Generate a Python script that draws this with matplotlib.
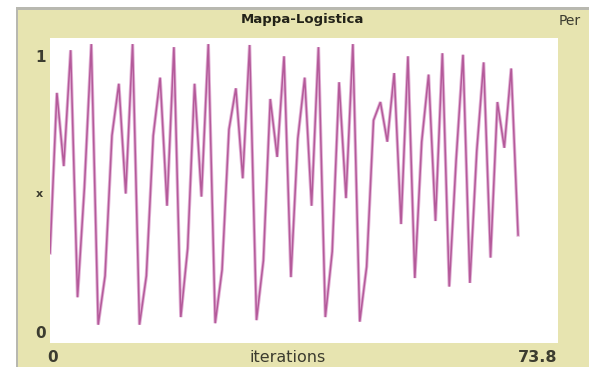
from matplotlib import pyplot as plt
from matplotlib.patches import Rectangle

# values of x at each iteration
iterations = list(range(69))
x_values = [0.295, 0.82, 0.58, 0.96, 0.15, 0.51, 0.98, 0.06, 0.22, 0.68,
            0.85, 0.49, 0.98, 0.06, 0.22, 0.68, 0.87, 0.45, 0.97, 0.085,
            0.31, 0.85, 0.48, 0.98, 0.065, 0.24, 0.70, 0.835, 0.54, 0.977,
            0.075, 0.27, 0.80, 0.61, 0.94, 0.216, 0.67, 0.87, 0.45, 0.97,
            0.085, 0.30, 0.855, 0.475, 0.98, 0.07, 0.25, 0.73, 0.79, 0.66,
            0.885, 0.39, 0.94, 0.213, 0.66, 0.88, 0.40, 0.95, 0.185, 0.60,
            0.945, 0.197, 0.63, 0.92, 0.28, 0.79, 0.64, 0.90, 0.354]

x_min, x_max = 0, 73.8
y_min, y_max = 0, 1

W, H = 589, 367
fig = plt.figure(figsize=(W / 100, H / 100), dpi=100)
fig.patch.set_facecolor('white')

# widget frame: gray border and yellow panel (behind the axes)
fig.patches.append(Rectangle((16 / W, 0), 1, 1 - 7 / H, transform=fig.transFigure,
                             facecolor='#b8b8b0', edgecolor='none', zorder=-2))
fig.patches.append(Rectangle((18 / W, 0), 1, 1 - 10 / H, transform=fig.transFigure,
                             facecolor='#e7e4b0', edgecolor='none', zorder=-1))

# plot area (white)
ax = fig.add_axes([50 / W, (H - 343) / H, (558 - 50) / W, (343 - 38) / H])
ax.set_zorder(1)
ax.set_facecolor('white')
# soft pink halo with a darker core, like the anti-aliased NetLogo pen
ax.plot(iterations, x_values, color='#e2b2d6', lw=2.4, solid_joinstyle='miter')
ax.plot(iterations, x_values, color='#b45a9a', lw=1.1, solid_joinstyle='miter')
ax.set_xlim(x_min, x_max)
ax.set_ylim(y_min, y_max)
ax.set_xticks([])
ax.set_yticks([])
for s in ax.spines.values():
    s.set_visible(False)

txt = '#3c3c30'
fig.text(302 / W, 1 - 19 / H, 'Mappa-Logistica', ha='center', va='center',
         fontsize=9.5, fontweight='bold', color='#222218')
fig.text(559 / W, 1 - 21 / H, 'Per', ha='left', va='center', fontsize=10, color=txt)

fig.text(41 / W, 1 - 57 / H, '1', ha='center', va='center', fontsize=11,
         fontweight='bold', color=txt)
fig.text(41 / W, 1 - 333 / H, '0', ha='center', va='center', fontsize=11,
         fontweight='bold', color=txt)
fig.text(39 / W, 1 - 194 / H, 'x', ha='center', va='center', fontsize=8,
         fontweight='bold', color=txt)

fig.text(47 / W, 1 - 357 / H, '0', ha='left', va='center', fontsize=11,
         fontweight='bold', color=txt)
fig.text(288 / W, 1 - 357 / H, 'iterations', ha='center', va='center', fontsize=11.5,
         color='#3c3c30')
fig.text(557 / W, 1 - 357 / H, '73.8', ha='right', va='center', fontsize=11.5,
         fontweight='bold', color=txt)

fig.savefig('out.png', dpi=100)
